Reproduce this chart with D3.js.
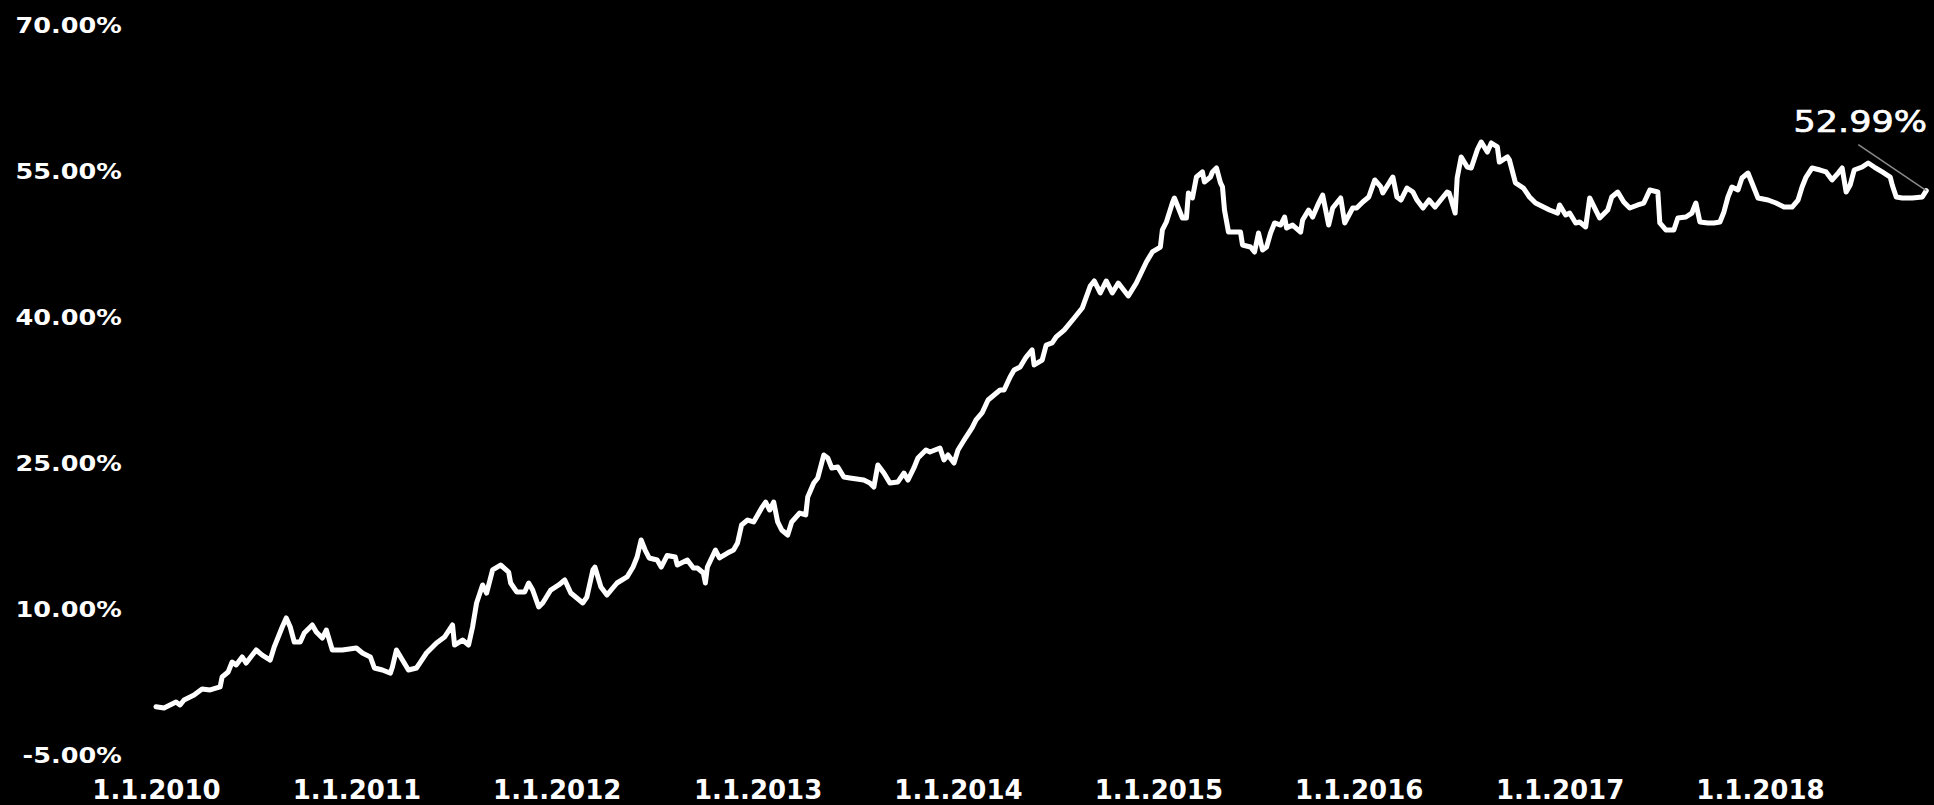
<!DOCTYPE html>
<html>
<head>
<meta charset="utf-8">
<script src="https://cdn.jsdelivr.net/npm/d3@7"></script>
<style>
  html, body { margin: 0; padding: 0; background: #000; }
  svg { display: block; }
</style>
</head>
<body>
<svg id="chart" width="1934" height="805"></svg>
<script>
// ---- Data ----
// Time as decimal years, cumulative return in %
const times = [
  2010.00,2010.04,2010.07,2010.10,2010.12,2010.14,2010.19,2010.23,2010.27,2010.32,
  2010.33,2010.36,2010.38,2010.40,2010.43,2010.45,2010.50,2010.53,2010.57,2010.59,
  2010.61,2010.63,2010.65,2010.67,2010.69,2010.72,2010.74,2010.78,2010.80,2010.83,
  2010.85,2010.88,2010.93,2011.00,2011.03,2011.07,2011.09,2011.13,2011.17,2011.18,
  2011.20,2011.23,2011.26,2011.30,2011.32,2011.35,2011.40,2011.44,2011.48,2011.49,
  2011.53,2011.56,2011.58,2011.60,2011.63,2011.65,2011.68,2011.72,2011.76,2011.77,
  2011.80,2011.84,2011.86,2011.88,2011.91,2011.93,2011.97,2012.01,2012.04,2012.07,
  2012.10,2012.13,2012.15,2012.18,2012.19,2012.22,2012.25,2012.30,2012.35,2012.38,
  2012.40,2012.42,2012.44,2012.46,2012.50,2012.52,2012.55,2012.59,2012.60,2012.65,
  2012.68,2012.70,2012.73,2012.74,2012.75,2012.79,2012.81,2012.85,2012.88,2012.90,
  2012.92,2012.95,2012.98,2013.00,2013.02,2013.04,2013.06,2013.08,2013.10,2013.12,
  2013.15,2013.17,2013.21,2013.24,2013.25,2013.28,2013.30,2013.33,2013.35,2013.37,
  2013.40,2013.43,2013.46,2013.53,2013.56,2013.58,2013.60,2013.63,2013.66,2013.70,
  2013.73,2013.75,2013.78,2013.80,2013.84,2013.86,2013.91,2013.93,2013.95,2013.98,
  2014.00,2014.04,2014.07,2014.09,2014.12,2014.15,2014.18,2014.21,2014.23,2014.26,
  2014.28,2014.31,2014.34,2014.37,2014.38,2014.42,2014.44,2014.47,2014.49,2014.53,
  2014.58,2014.62,2014.66,2014.68,2014.71,2014.74,2014.77,2014.80,2014.85,2014.89,
  2014.94,2014.97,2015.01,2015.02,2015.04,2015.07,2015.08,2015.10,2015.12,2015.14,
  2015.15,2015.17,2015.19,2015.22,2015.23,2015.26,2015.27,2015.29,2015.31,2015.32,
  2015.33,2015.35,2015.41,2015.42,2015.46,2015.48,2015.50,2015.52,2015.54,2015.56,
  2015.58,2015.61,2015.63,2015.64,2015.67,2015.71,2015.72,2015.75,2015.77,2015.80,
  2015.82,2015.85,2015.87,2015.91,2015.93,2015.97,2015.99,2016.02,2016.05,2016.08,
  2016.11,2016.12,2016.16,2016.17,2016.19,2016.21,2016.24,2016.27,2016.29,2016.32,
  2016.35,2016.38,2016.40,2016.44,2016.45,2016.48,2016.49,2016.51,2016.54,2016.56,
  2016.59,2016.61,2016.64,2016.66,2016.69,2016.70,2016.74,2016.75,2016.78,2016.82,
  2016.85,2016.88,2016.92,2016.95,2016.99,2017.00,2017.03,2017.05,2017.08,2017.10,
  2017.13,2017.15,2017.18,2017.20,2017.24,2017.26,2017.29,2017.32,2017.35,2017.39,
  2017.42,2017.45,2017.49,2017.50,2017.53,2017.57,2017.59,2017.63,2017.66,2017.68,
  2017.70,2017.74,2017.77,2017.80,2017.82,2017.84,2017.86,2017.89,2017.91,2017.94,
  2017.97,2017.99,2018.04,2018.08,2018.12,2018.16,2018.19,2018.21,2018.23,2018.26,
  2018.30,2018.33,2018.36,2018.39,2018.41,2018.43,2018.45,2018.47,2018.51,2018.54,
  2018.57,2018.61,2018.65,2018.66,2018.68,2018.71,2018.76,2018.81,2018.83
];
const returns = [
  -0.04,-0.17,0.14,0.44,0.14,0.65,1.16,1.78,1.68,1.99,
  3.01,3.53,4.55,4.25,5.07,4.45,5.79,5.27,4.76,6.10,
  7.12,8.15,9.08,8.15,6.61,6.61,7.53,8.36,7.64,7.02,
  7.84,5.79,5.79,5.99,5.48,5.07,3.94,3.73,3.42,4.04,
  5.79,4.76,3.73,3.94,4.55,5.48,6.51,7.12,8.36,6.30,
  6.81,6.30,8.15,10.62,12.47,11.64,14.01,14.52,13.80,12.67,
  11.75,11.75,12.67,11.95,10.21,10.62,11.95,12.47,12.98,11.64,
  11.13,10.62,11.23,14.01,14.31,12.26,11.44,12.67,13.29,14.31,
  15.34,17.09,16.06,15.24,15.03,14.31,15.50,15.34,14.52,15.03,
  14.21,14.21,13.70,12.67,14.31,16.06,15.24,15.75,16.06,16.78,
  18.63,19.14,18.94,19.66,20.38,20.99,20.17,20.99,18.94,18.12,
  17.60,18.94,19.86,19.66,21.51,22.95,23.46,25.82,25.51,24.49,
  24.59,23.56,23.46,23.25,22.95,22.53,24.79,23.97,22.95,23.05,
  23.97,23.25,24.49,25.51,26.34,26.13,26.54,25.31,25.82,25.00,
  26.34,27.67,28.60,29.42,30.14,31.47,31.99,32.50,32.50,33.84,
  34.55,34.86,35.89,36.61,35.07,35.58,37.12,37.33,37.95,38.66,
  39.90,40.92,43.18,43.70,42.47,43.70,42.47,43.49,42.16,43.49,
  45.65,46.68,47.19,48.94,49.76,51.71,52.23,51.20,50.17,50.17,
  52.74,52.23,54.38,54.90,53.87,54.38,54.90,55.31,53.77,53.36,
  50.99,48.73,48.73,47.40,47.19,46.68,48.63,46.88,47.19,48.63,
  49.66,49.45,50.27,49.14,49.45,48.73,49.97,50.99,50.27,51.71,
  52.53,49.45,51.20,52.23,49.66,51.20,51.20,51.82,52.33,54.08,
  53.36,52.74,54.08,54.38,52.33,52.02,53.25,52.84,52.02,51.20,
  52.02,51.30,51.82,52.84,52.74,50.68,54.28,56.44,55.41,55.31,
  57.16,57.98,56.95,57.88,57.47,55.92,56.44,56.13,53.77,53.25,
  52.33,51.71,51.30,50.99,50.68,51.51,50.48,50.68,49.66,49.76,
  49.25,52.23,50.99,50.17,50.99,52.33,52.84,51.82,51.20,51.51,
  51.71,53.05,52.84,49.66,48.94,48.94,50.17,50.27,50.68,51.71,
  49.76,49.66,49.66,49.76,50.79,52.33,53.36,53.05,54.28,54.79,
  53.25,52.23,52.02,51.71,51.30,51.30,52.02,53.36,54.38,55.31,
  55.10,54.90,54.08,54.79,55.31,52.84,53.56,55.10,55.41,55.82,
  55.41,54.90,54.38,53.56,52.33,52.23,52.23,52.33,52.99
];
const yTickValues = [-5, 10, 25, 40, 55, 70];
const xTickYears = [2010, 2011, 2012, 2013, 2014, 2015, 2016, 2017, 2018];
const xTickLabels = ["1.1.2010","1.1.2011","1.1.2012","1.1.2013","1.1.2014","1.1.2015","1.1.2016","1.1.2017","1.1.2018"];
const lastLabel = "52.99%";

// ---- Helpers ----
const toDate = t => {
  const yr = Math.floor(t + 1e-9);
  const s = Date.UTC(yr, 0, 1), e = Date.UTC(yr + 1, 0, 1);
  return new Date(s + (t - yr) * (e - s));
};
const data = times.map((t, i) => ({ date: toDate(t), value: returns[i] }));

// ---- Scales ----
const svg = d3.select("#chart");
const x = d3.scaleUtc()
  .domain([new Date(Date.UTC(2010, 0, 1)), new Date(Date.UTC(2018, 0, 1))])
  .range([156, 1760]);
const y = d3.scaleLinear().domain([-5, 70]).range([755, 25]);

svg.append("rect").attr("width", 1934).attr("height", 805).attr("fill", "#000");

// ---- Y axis ----
const yAxis = svg.append("g")
  .attr("transform", "translate(124,0)")
  .call(d3.axisLeft(y).tickValues(yTickValues).tickSize(0).tickPadding(2)
    .tickFormat(d => d.toFixed(2) + "%"));
yAxis.select(".domain").remove();
yAxis.selectAll("text")
  .attr("fill", "#fff")
  .attr("font-family", "'DejaVu Sans', Verdana, sans-serif")
  .attr("font-weight", "bold")
  .attr("font-size", "22px")
  .attr("transform", "scale(1.16,1)");

// ---- X axis ----
const xAxis = svg.append("g")
  .attr("transform", "translate(0,771)")
  .call(d3.axisBottom(x)
    .tickValues(xTickYears.map(yr => new Date(Date.UTC(yr, 0, 1))))
    .tickSize(0).tickPadding(10)
    .tickFormat((d, i) => xTickLabels[i]));
xAxis.select(".domain").remove();
xAxis.selectAll("text")
  .attr("fill", "#fff")
  .attr("font-family", "'DejaVu Sans', Verdana, sans-serif")
  .attr("font-weight", "bold")
  .attr("font-size", "26px");

// ---- Line ----
const line = d3.line().x(d => x(d.date)).y(d => y(d.value));
svg.append("path")
  .datum(data)
  .attr("d", line)
  .attr("fill", "none")
  .attr("stroke", "#fff")
  .attr("stroke-width", 5)
  .attr("stroke-linejoin", "round")
  .attr("stroke-linecap", "round");

// ---- End annotation ----
const last = data[data.length - 1];
const lx = x(last.date), ly = y(last.value);
svg.append("line")
  .attr("x1", lx - 68).attr("y1", ly - 46)
  .attr("x2", lx).attr("y2", ly)
  .attr("stroke", "#8a8a8a")
  .attr("stroke-width", 1.5);
svg.append("g")
  .attr("transform", `translate(${lx - 66},${ly - 59}) scale(1.13,1)`)
  .append("text")
  .attr("text-anchor", "middle")
  .attr("fill", "#fff")
  .attr("stroke", "#fff")
  .attr("stroke-width", 0.7)
  .attr("font-family", "'DejaVu Sans', Verdana, sans-serif")
  .attr("font-size", "31px")
  .text(lastLabel);
</script>
</body>
</html>
